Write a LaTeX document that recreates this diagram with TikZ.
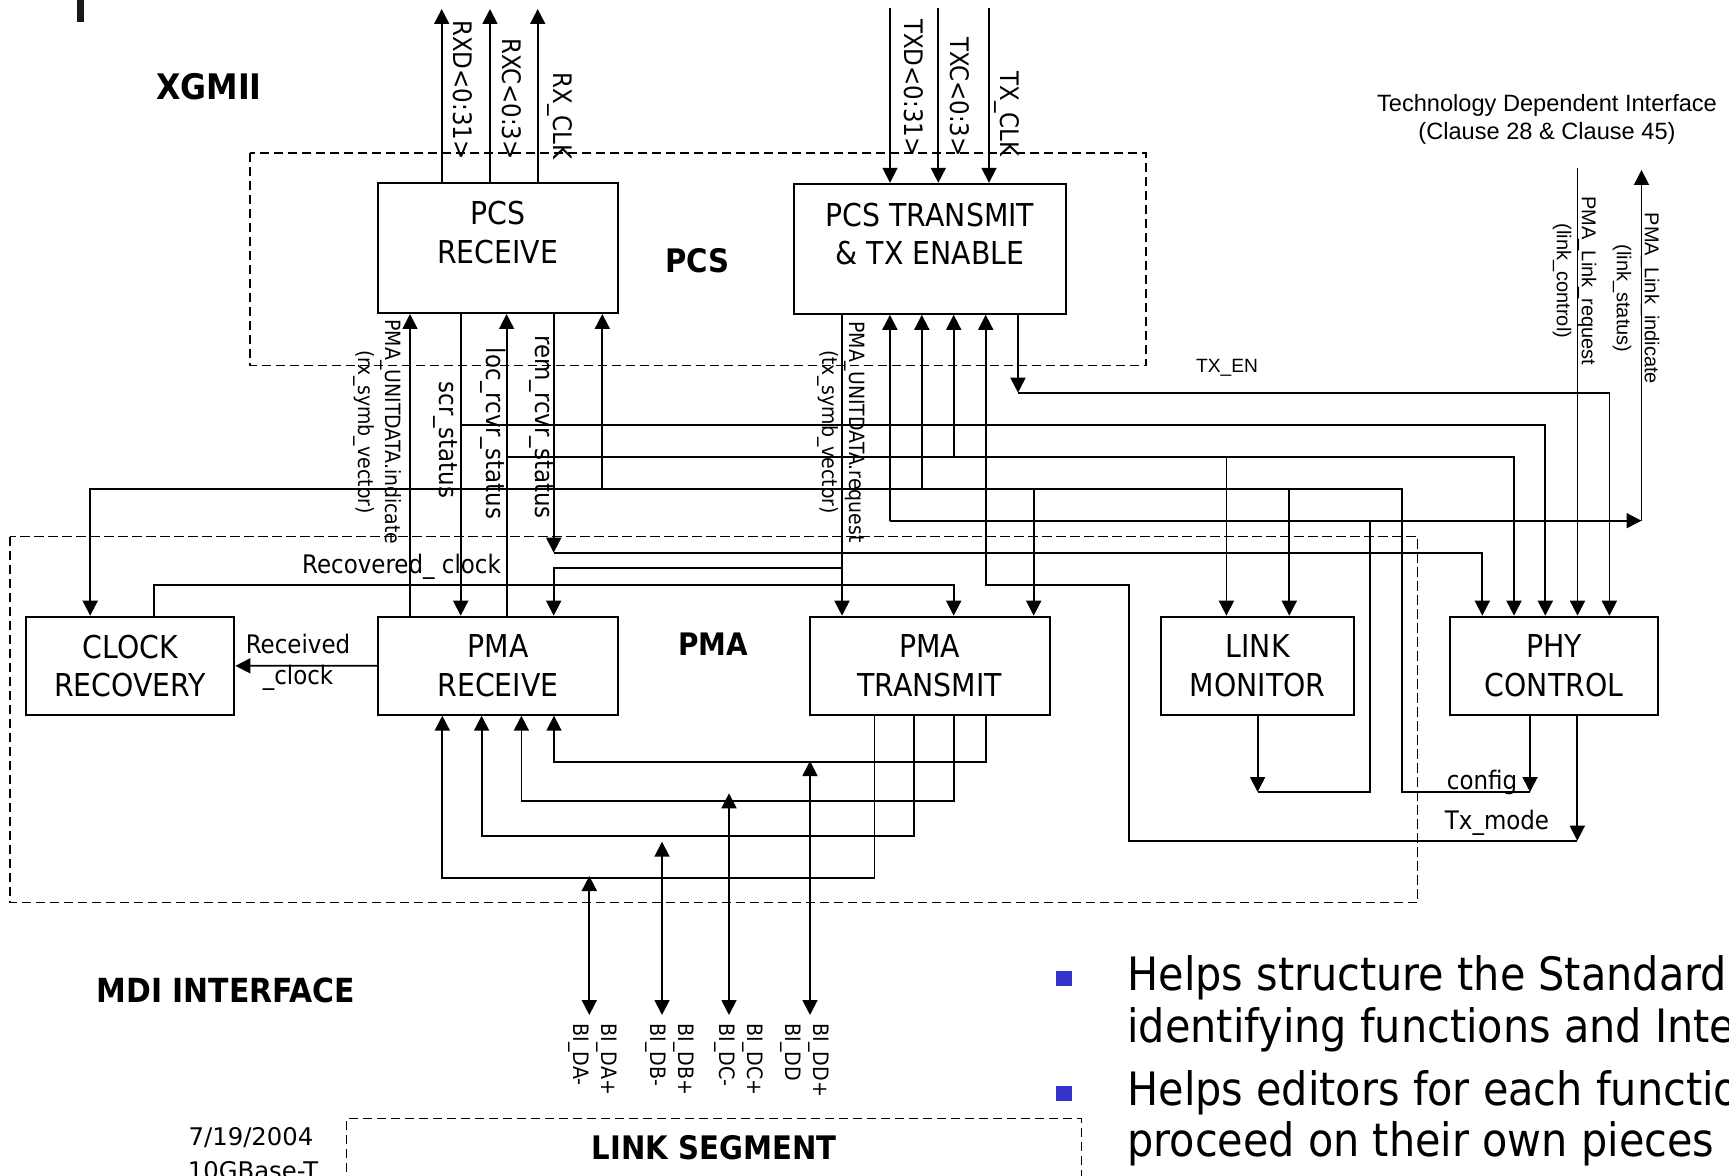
\documentclass[tikz,border=0pt]{standalone}
\usepackage{fontspec}
\newfontfamily\tah{DejaVu Sans}[FakeStretch=0.9]
\newfontfamily\arl{Liberation Sans}
\newfontfamily\dvs{DejaVu Sans}
\usetikzlibrary{arrows.meta}
\definecolor{bulletblue}{RGB}{51,51,204}
\begin{document}
\begin{tikzpicture}[x=0.5pt,y=-0.5pt,
  ln/.style={line width=0.9pt},
  arr/.style={line width=0.9pt,-{Triangle[length=7.5pt,width=7.5pt]}},
  darr/.style={line width=0.9pt,{Triangle[length=7.5pt,width=7.5pt]}-{Triangle[length=7.5pt,width=7.5pt]}},
  blk/.style={draw,line width=1pt,rectangle,inner sep=0pt},
  boxtxt/.style={font=\tah\fontsize{15.75}{19.25}\selectfont,align=center,inner sep=0pt},
  mid/.style={font=\tah\fontsize{12.75}{15.6}\selectfont,inner sep=0pt},
  midr/.style={mid,rotate=-90},
  sml/.style={font=\tah\fontsize{10.5}{13.5}\selectfont,inner sep=0pt,align=center,rotate=-90},
  bilab/.style={font=\tah\fontsize{10.6}{13.8}\selectfont,inner sep=0pt,align=left,rotate=-90,anchor=west},
  bld/.style={inner sep=0pt},
  dsh/.style={line width=0.7pt,dash pattern=on 4.6pt off 2.4pt},
  bul/.style={font=\tah\fontsize{23}{26}\selectfont,inner sep=0pt,anchor=base west},
]
\useasboundingbox (0,0) rectangle (1729,1176);
\clip (0,0) rectangle (1729,1176);

% stray mark
\fill[black!90] (77.3,0) rectangle (84,21.7);

% dashed sublayer boxes
\draw[dsh] (250,153) rectangle (1146,365.5);
\draw[dsh] (9.8,536.7) rectangle (1417.7,902.7);
\draw[dsh] (346.5,1200) -- (346.5,1118.3) -- (1081.3,1118.3) -- (1081.3,1200);

% function blocks
\node[blk,minimum width=120pt,minimum height=65pt] (pcsrx) at (497.7,248) {};
\node[boxtxt] at (497.7,232.5) {PCS\\RECEIVE};
\node[blk,minimum width=136pt,minimum height=65pt] (pcstx) at (930,248.8) {};
\node[boxtxt] at (930,234) {PCS TRANSMIT\\\& TX ENABLE};
\node[blk,boxtxt,minimum width=104.25pt,minimum height=49.15pt] (clk) at (130.15,665.85) {CLOCK\\RECOVERY};
\node[blk,boxtxt,minimum width=120pt,minimum height=49pt] (pmarx) at (498,665.7) {PMA\\RECEIVE};
\node[blk,boxtxt,minimum width=119.9pt,minimum height=49pt] (pmatx) at (929.6,665.7) {PMA\\TRANSMIT};
\node[blk,boxtxt,minimum width=96.3pt,minimum height=49pt] (lnkmon) at (1257.7,665.7) {LINK\\MONITOR};
\node[blk,boxtxt,minimum width=104.3pt,minimum height=49pt] (phy) at (1554.1,665.7) {PHY\\CONTROL};

% XGMII signals
\draw[arr] (441.7,0 |- pcsrx.north) -- (441.7,9);
\draw[arr] (490,0 |- pcsrx.north) -- (490,9);
\draw[arr] (537.7,0 |- pcsrx.north) -- (537.7,9);
\draw[arr] (890,8) -- (890,0 |- pcstx.north);
\draw[arr] (938.3,8) -- (938.3,0 |- pcstx.north);
\draw[arr] (989,8) -- (989,0 |- pcstx.north);

% PCS receive <-> PMA receive
\draw[arr] (410,0 |- pmarx.north) -- (410,0 |- pcsrx.south);
\draw[arr] (460.7,0 |- pcsrx.south) -- (460.7,0 |- pmarx.north);
\draw[arr] (460.7,425) -- (1545.3,425) -- (1545.3,0 |- phy.north);
\draw[arr] (506.6,0 |- pmarx.north) -- (506.6,0 |- pcsrx.south);
\draw[arr] (506.6,456.7) -- (1514,456.7) -- (1514,0 |- phy.north);
\draw[arr] (953.7,456.7) -- (953.7,0 |- pcstx.south);
\draw[arr] (1226.4,456.7) -- (1226.4,0 |- lnkmon.north);
\draw[arr] (553.7,0 |- pcsrx.south) -- (553.7,552.7);
\draw[arr] (553.7,552.7) -- (1482.3,552.7) -- (1482.3,0 |- phy.north);

% config bus
\draw[arr] (1530,0 |- phy.south) -- (1530,792);
\draw[arr] (1530,792) -- (1401.6,792) -- (1401.6,489) -- (90.2,489) -- (90.2,0 |- clk.north);
\draw[arr] (602.3,489) -- (602.3,0 |- pcsrx.south);
\draw[arr] (921.8,489) -- (921.8,0 |- pcstx.south);
\draw[arr] (1033.7,489) -- (1033.7,0 |- pmatx.north);
\draw[arr] (1289.3,489) -- (1289.3,0 |- lnkmon.north);

% link status
\draw[arr] (1257.6,0 |- lnkmon.south) -- (1257.6,792);
\draw[ln] (1257.6,792) -- (1369.6,792) -- (1369.6,520.7);
\draw[arr] (889.9,520.7) -- (1641.5,520.7);
\draw[arr] (889.9,520.7) -- (889.9,0 |- pcstx.south);
\draw[arr] (1641.5,520.7) -- (1641.5,170);

% TX_EN
\draw[arr] (1018,0 |- pcstx.south) -- (1018,392.7);
\draw[arr] (1018,392.7) -- (1609.4,392.7) -- (1609.4,0 |- phy.north);
% PMA link request
\draw[arr] (1577.5,168) -- (1577.5,0 |- phy.north);

% tx symbols
\draw[arr] (842,0 |- pcstx.south) -- (842,0 |- pmatx.north);
\draw[arr] (842,568.3) -- (553.7,568.3) -- (553.7,0 |- pmarx.north);

% recovered clock
\draw[arr] (154,0 |- clk.north) -- (154,585) -- (953.7,585) -- (953.7,0 |- pmatx.north);

% Tx_mode
\draw[arr] (1577.3,0 |- phy.south) -- (1577.3,840.7);
\draw[arr] (1577.3,840.7) -- (1129.3,840.7) -- (1129.3,585) -- (985.7,585) -- (985.7,0 |- pcstx.south);

% received clock
\draw[arr] (pmarx.west) -- (clk.east);

% PMA transmit -> PMA receive
\draw[arr] (985.7,0 |- pmatx.south) -- (985.7,762.3) -- (554,762.3) -- (554,0 |- pmarx.south);
\draw[arr] (953.6,0 |- pmatx.south) -- (953.6,801) -- (521.4,801) -- (521.4,0 |- pmarx.south);
\draw[arr] (913.8,0 |- pmatx.south) -- (913.8,836) -- (481.6,836) -- (481.6,0 |- pmarx.south);
\draw[arr] (874.5,0 |- pmatx.south) -- (874.5,878.3) -- (442.3,878.3) -- (442.3,0 |- pmarx.south);

% MDI
\draw[darr] (589.3,1015) -- (589.3,876);
\draw[darr] (662,1015) -- (662,841.7);
\draw[darr] (729,1015) -- (729,793.3);
\draw[darr] (810,1015) -- (810,761);

% labels
\node[midr,anchor=east] at (463,160) {RXD<0:31>};
\node[midr,anchor=east] at (512,160) {RXC<0:3>};
\node[midr,anchor=east] at (560,160) {RX\_CLK};
\node[midr,anchor=east] at (913.3,157) {TXD<0:31>};
\node[midr,anchor=east] at (960,157) {TXC<0:3>};
\node[midr,anchor=east] at (1006.7,157) {TX\_CLK};

\node[sml] at (377,432) {PMA\_UNITDATA.indicate\\(rx\_symb\_vector)};
\node[sml] at (841.5,432) {PMA\_UNITDATA.request\\(tx\_symb\_vector)};
\node[midr] at (445.4,440) {scr\_status};
\node[midr] at (493,433.5) {loc\_rcvr\_status};
\node[midr] at (541,427) {rem\_rcvr\_status};
\node[mid] at (401.5,566.7) {Recovered\_ clock};
\node[mid,align=center] at (298,662) {Received\\\_clock};
\node[mid] at (1482,782) {config};
\node[mid] at (1497,823) {Tx\_mode};
\node[font=\arl\fontsize{9.6}{11}\selectfont,inner sep=0pt] at (1227,368) {TX\_EN};
\node[font=\arl\fontsize{11.8}{14}\selectfont,align=center,inner sep=0pt] at (1547,119) {Technology Dependent Interface\\(Clause 28 \& Clause 45)};
\node[font=\arl\fontsize{10}{12.5}\selectfont,align=center,inner sep=0pt,rotate=-90] at (1574.5,281) {PMA\_Link\_request\\(link\_control)};
\node[font=\arl\fontsize{10}{14}\selectfont,align=center,inner sep=0pt,rotate=-90] at (1636,298.5) {PMA\_Link\_indicate\\(link\_status)};

\node[bilab] at (592.6,1023) {BI\_DA+\\BI\_DA-};
\node[bilab] at (669.8,1023) {BI\_DB+\\BI\_DB-};
\node[bilab] at (738.7,1023) {BI\_DC+\\BI\_DC-};
\node[bilab] at (804.8,1023) {BI\_DD+\\BI\_DD};

\node[bld,font=\tah\bfseries\fontsize{17.6}{20}\selectfont] at (209,86.7) {XGMII};
\node[bld,font=\tah\bfseries\fontsize{16.2}{19}\selectfont] at (697.5,261) {PCS};
\node[bld,font=\tah\bfseries\fontsize{15.5}{18}\selectfont] at (713.4,644) {PMA};
\node[bld,font=\tah\bfseries\fontsize{16.6}{19}\selectfont] at (226,990) {MDI INTERFACE};
\node[bld,font=\tah\bfseries\fontsize{16.2}{19}\selectfont] at (714,1148) {LINK SEGMENT};

% footer
\node[font=\dvs\fontsize{12.15}{14}\selectfont,inner sep=0pt,anchor=base] at (251,1145) {7/19/2004};
\node[font=\dvs\fontsize{12.15}{14}\selectfont,inner sep=0pt,anchor=base] at (253,1179.4) {10GBase-T};

% bullets
\fill[bulletblue] (1056,971) rectangle (1072,986);
\fill[bulletblue] (1056,1086) rectangle (1072,1101);
\node[bul] at (1127,990) {Helps structure the Standard};
\node[bul] at (1127,1042) {identifying functions and Inte};
\node[bul] at (1127,1105) {Helps editors for each functio};
\node[bul] at (1127,1156) {proceed on their own pieces};
\end{tikzpicture}
\end{document}
